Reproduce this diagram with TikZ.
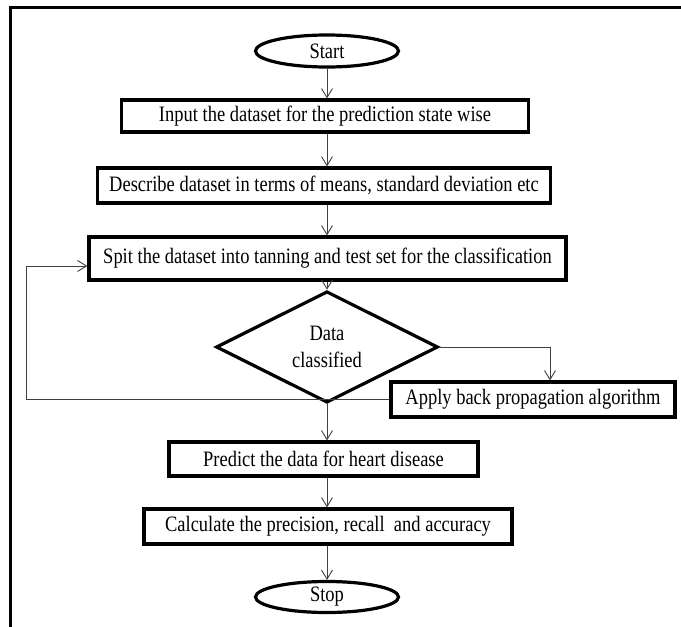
\documentclass[tikz,border=0pt]{standalone}
\usepackage{fontspec}
\setmainfont[FakeStretch=0.84]{Liberation Serif}
\usetikzlibrary{shapes.geometric,arrows.meta}
\tikzset{
  boxstyle/.style={draw=black, line width=3.2pt, rectangle, inner sep=0pt, align=center, font=\fontsize{22}{25}\selectfont},
  termstyle/.style={draw=black, line width=3.2pt, ellipse, inner sep=0pt, minimum width=143pt, minimum height=32pt, font=\fontsize{22}{25}\selectfont},
  decstyle/.style={draw=black, line width=3.2pt, diamond, inner sep=0pt, minimum width=222pt, minimum height=68pt, align=center, font=\fontsize{22}{27}\selectfont},
  arr/.style={draw=black!75, line width=0.9pt, -{Straight Barb[length=9pt,width=11pt,line width=0.9pt]}},
  frame/.style={draw=black, line width=3pt}
}
\begin{document}
\begin{tikzpicture}[x=1pt,y=-1pt]
\useasboundingbox (0,0) rectangle (681,627);
\fill[white] (0,0) rectangle (681,627);
\coordinate (ftr) at (681,7);
\coordinate (ftl) at (10,7);
\coordinate (fbl) at (10,627);
\draw[frame] (ftr) -- (ftl) -- (fbl);

\node[termstyle] (start) at (327,51) {Start};
\node[boxstyle, minimum width=407pt, minimum height=32pt] (b1) at (325,116) {Input the dataset for the prediction state wise};
\node[boxstyle, minimum width=453pt, minimum height=35pt] (b2) at (324,185.5) {Describe dataset in terms of means, standard deviation etc};
\node[boxstyle, minimum width=477pt, minimum height=43pt] (b3) at (327.5,258.5) {Spit the dataset into tanning and test set for the classification};
\node[decstyle] (dec) at (327,347) {Data\\classified};
\node[boxstyle, minimum width=284pt, minimum height=35pt] (b4) at (533,399.5) {Apply back propagation algorithm};
\node[boxstyle, minimum width=309pt, minimum height=34pt] (b5) at (323.5,459) {Predict the data for heart disease};
\node[boxstyle, minimum width=368pt, minimum height=35pt] (b6) at (328,526.5) {Calculate the precision, recall\ \ and accuracy};
\node[termstyle, minimum height=31pt] (stop) at (327,597) {Stop};

\draw[arr] (start.south) -- (start.south |- b1.north);
\draw[arr] (start.south |- b1.south) -- (start.south |- b2.north);
\draw[arr] (start.south |- b2.south) -- (start.south |- b3.north);
\draw[arr] (start.south |- b3.south) -- (dec.north);
\draw[arr] (dec.east) -| ([xshift=17pt]b4.north);
\coordinate (fbx) at (26,399.5);
\coordinate (b3in) at ([yshift=-7.5pt]b3.west);
\draw[arr] (b4.west) -- (fbx) |- (b3in);
\draw[arr] (dec.south) -- (dec.south |- b5.north);
\draw[arr] (dec.south |- b5.south) -- (dec.south |- b6.north);
\draw[arr] (dec.south |- b6.south) -- (stop.north);
\end{tikzpicture}
\end{document}
